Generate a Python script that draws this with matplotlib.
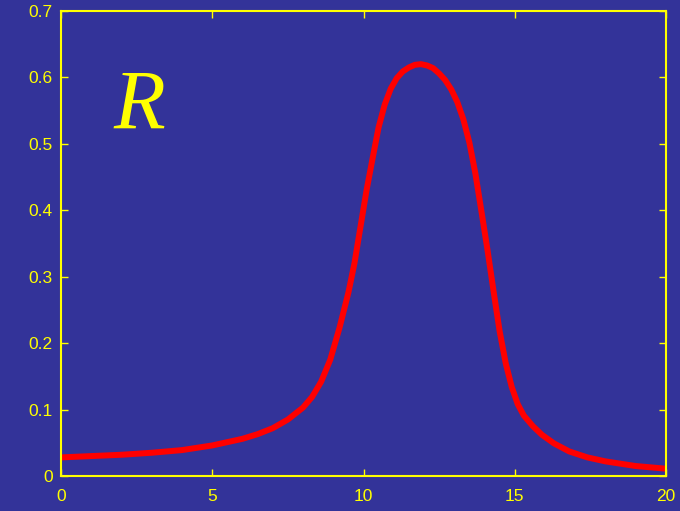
import matplotlib
matplotlib.use('Agg')
import matplotlib.pyplot as plt

# values
x = [0, 1, 2, 3, 4, 5, 6, 6.5, 7, 7.5, 8, 8.3, 8.6, 8.9, 9.2, 9.5, 9.7, 9.9, 10.1,
     10.3, 10.5, 10.7, 10.9, 11.1, 11.3, 11.5, 11.7, 11.9, 12.1, 12.3, 12.5, 12.7,
     12.9, 13.1, 13.3, 13.5, 13.7, 13.9, 14.1, 14.3, 14.5, 14.7, 14.9, 15.1, 15.3,
     15.6, 15.9, 16.3, 16.8, 17.4, 18.0, 19.0, 20]
r = [0.028, 0.030, 0.032, 0.035, 0.039, 0.046, 0.056, 0.063, 0.072, 0.085, 0.103,
     0.119, 0.142, 0.175, 0.222, 0.276, 0.320, 0.375, 0.430, 0.478, 0.525, 0.559,
     0.583, 0.599, 0.609, 0.615, 0.619, 0.620, 0.618, 0.614, 0.606, 0.596, 0.582,
     0.563, 0.537, 0.502, 0.455, 0.398, 0.34, 0.278, 0.218, 0.17, 0.134, 0.108,
     0.091, 0.075, 0.062, 0.049, 0.037, 0.028, 0.022, 0.015, 0.011]

bg = '#333399'
yel = '#ffff00'

fig = plt.figure(figsize=(6.8, 5.11), dpi=100, facecolor=bg)
ax = fig.add_axes([61/680, 35/511, 605/680, 465/511], facecolor=bg)

ax.plot(x, r, color='#ff0000', lw=4.3, solid_capstyle='butt', solid_joinstyle='round')
ax.text(2.6, 0.553, 'R', color=yel, fontsize=61, fontstyle='italic',
        family='Liberation Serif', ha='center', va='center')

ax.set_xlim(0, 20)
ax.set_ylim(0, 0.7)
ax.set_xticks([0, 5, 10, 15, 20])
ax.set_yticks([0, 0.1, 0.2, 0.3, 0.4, 0.5, 0.6, 0.7])
ax.set_yticklabels(['0', '0.1', '0.2', '0.3', '0.4', '0.5', '0.6', '0.7'])
ax.tick_params(direction='in', length=5, width=1, color=yel, labelcolor=yel,
               top=True, right=True, labelsize=12.5)
ax.tick_params(axis='x', pad=9)
ax.tick_params(axis='y', pad=6)
for lab in ax.get_xticklabels() + ax.get_yticklabels():
    lab.set_family('Liberation Sans')
for s in ax.spines.values():
    s.set_color(yel)
    s.set_linewidth(1.5)

fig.savefig('out.png', dpi=100, facecolor=bg)
